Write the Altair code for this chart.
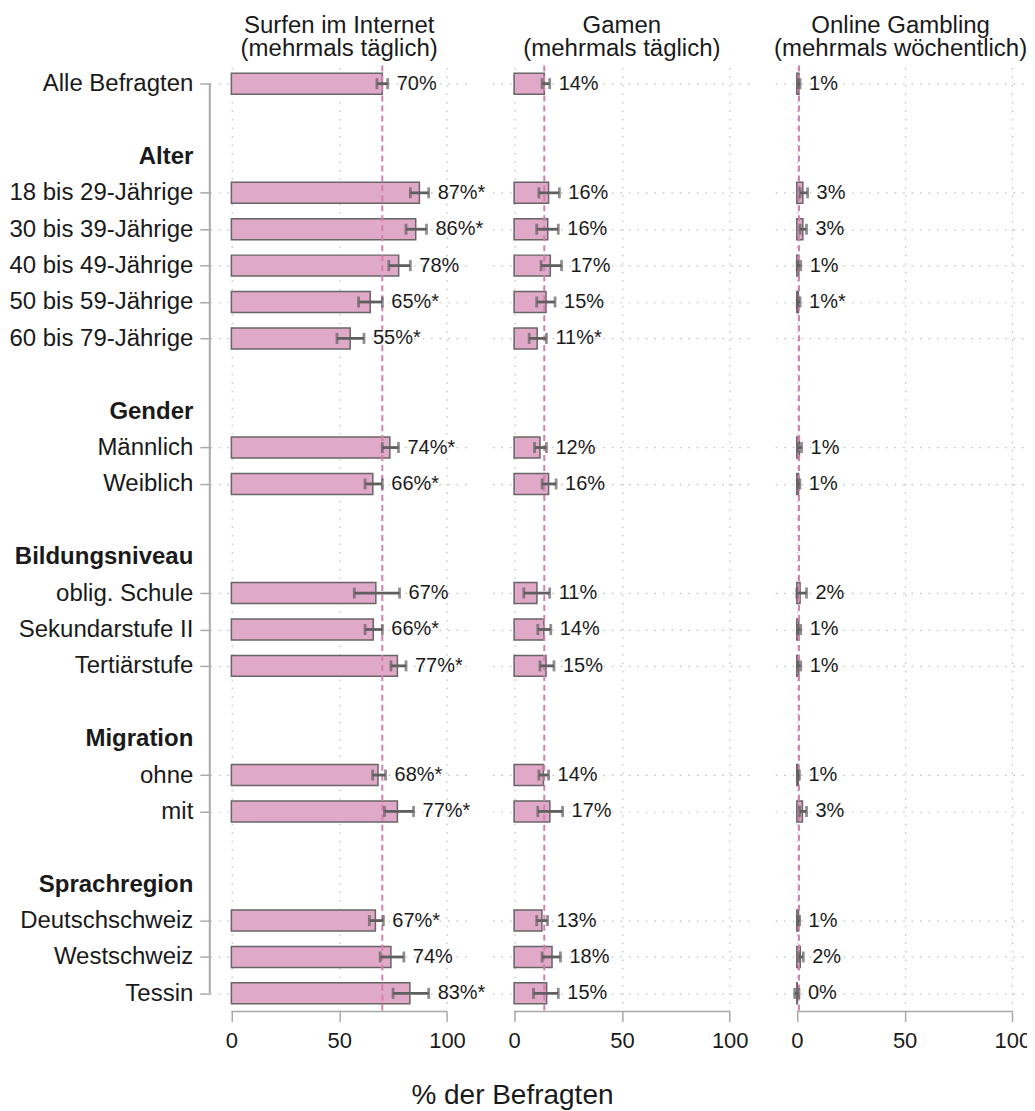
import json
import altair as alt
import pandas as pd

# ---------------- data ----------------
rows = ["Alle Befragten", " ", "Alter", "18 bis 29-Jährige", "30 bis 39-Jährige",
        "40 bis 49-Jährige", "50 bis 59-Jährige", "60 bis 79-Jährige", "  ", "Gender",
        "Männlich", "Weiblich", "   ", "Bildungsniveau", "oblig. Schule",
        "Sekundarstufe II", "Tertiärstufe", "    ", "Migration", "ohne", "mit",
        "     ", "Sprachregion", "Deutschschweiz", "Westschweiz", "Tessin"]
headers = ["Alter", "Gender", "Bildungsniveau", "Migration", "Sprachregion"]
groups = ["Alle Befragten", "18 bis 29-Jährige", "30 bis 39-Jährige", "40 bis 49-Jährige",
          "50 bis 59-Jährige", "60 bis 79-Jährige", "Männlich", "Weiblich",
          "oblig. Schule", "Sekundarstufe II", "Tertiärstufe", "ohne", "mit",
          "Deutschschweiz", "Westschweiz", "Tessin"]

surf_title = ["Surfen im Internet", "(mehrmals täglich)"]
surf_val = [70, 87.2, 85.5, 77.6, 64.4, 55.1, 73.5, 65.6, 67, 65.8, 77, 68, 77, 66.8, 74, 82.8]
surf_lo = [67.5, 83, 81, 73, 59, 49, 70, 62, 57, 62, 74, 65.5, 71, 64, 69, 75]
surf_hi = [72.5, 91.5, 90.5, 83, 70, 61.5, 77.5, 70, 78, 70, 81, 71.5, 84.5, 70.5, 80, 91.5]
surf_lab = ["70%", "87%*", "86%*", "78%", "65%*", "55%*", "74%*", "66%*", "67%", "66%*",
            "77%*", "68%*", "77%*", "67%*", "74%", "83%*"]
surf_mean = 70

game_title = ["Gamen", "(mehrmals täglich)"]
game_val = [14, 16, 15.6, 16.8, 14.8, 10.7, 12, 16, 10.6, 13.8, 14.8, 13.6, 16.6, 12.9, 17.6, 15.1]
game_lo = [13, 11.5, 10.5, 12.5, 10.5, 7, 9.5, 13, 4.5, 11, 12, 11.5, 11, 10.5, 13, 9]
game_hi = [16.5, 21, 20.5, 22, 19, 15, 15, 19.5, 16.5, 17, 18.5, 16, 22.5, 15.5, 21.5, 20.5]
game_lab = ["14%", "16%", "16%", "17%", "15%", "11%*", "12%", "16%", "11%", "14%", "15%",
            "14%", "17%", "13%", "18%", "15%"]
game_mean = 14

gamb_title = ["Online Gambling", "(mehrmals wöchentlich)"]
gamb_val = [1, 2.8, 2.8, 0.9, 0.7, None, 1.2, 0.8, 1.5, 0.9, 0.9, 0.7, 2.6, 0.8, 1.6, 0.2]
gamb_lo = [0.5, 1.5, 1.5, 0.2, 0.2, None, 0.5, 0.3, 0, 0.3, 0.3, 0.3, 1.3, 0.4, 0.9, -1]
gamb_hi = [1.5, 5, 4.5, 1.8, 1.5, None, 2.2, 1.4, 4.5, 1.8, 1.8, 1.2, 4.5, 1.3, 3, 1]
gamb_lab = ["1%", "3%", "3%", "1%", "1%*", None, "1%", "1%", "2%", "1%", "1%", "1%", "3%",
            "1%", "2%", "0%"]
gamb_mean = 1

xticks = [0, 50, 100]
xdomain = [-10, 110]
x_title = "% der Befragten"

# ---------------- style ----------------
FONT = "Liberation Sans"
TXT = "#1a1a1a"
AXGRAY = "#a9a9a9"
GRID = "#bdbdbd"
BAR = "#dfa9c7"
BARSTROKE = "#686567"
ERR = "#5f5f5f"
PINK = "#d47fb0"
W = 259
H = 947

groups_js = json.dumps(groups, ensure_ascii=False)
headers_js = json.dumps(headers, ensure_ascii=False)
hide_test = f"indexof({groups_js}, datum.value) < 0"
bold_test = f"indexof({headers_js}, datum.value) >= 0"

yscale = alt.Scale(type="point", domain=rows, padding=0.5)
xscale = alt.Scale(domain=xdomain, nice=False, zero=False)

xaxis = alt.Axis(values=xticks, title=None, domain=False, tickSize=10, tickColor=AXGRAY,
                 tickWidth=1.5, labelFont=FONT, labelFontSize=22, labelColor=TXT,
                 labelPadding=9, grid=True, gridColor=GRID, gridDash=[1.5, 7],
                 gridWidth=1.2)


def yaxis(first):
    common = dict(title=None, domain=False, grid=True, gridColor=GRID, gridDash=[1.5, 7],
                  gridWidth=1.2,
                  gridOpacity={"condition": {"test": hide_test, "value": 0}, "value": 1})
    if first:
        return alt.Axis(ticks=True, tickSize=10, tickColor=AXGRAY, tickWidth=1.5,
                        tickOpacity={"condition": {"test": hide_test, "value": 0}, "value": 1},
                        labelFont=FONT, labelFontSize=24, labelColor=TXT, labelPadding=7,
                        labelLimit=400,
                        labelFontWeight={"condition": {"test": bold_test, "value": "bold"},
                                         "value": "normal"},
                        **common)
    return alt.Axis(ticks=False, labels=False, **common)


def panel(title, vals, lo, hi, labs, mean, first, title_dx=0):
    df = pd.DataFrame({"group": groups, "val": vals, "lo": lo, "hi": hi, "lab": labs})
    df = df.dropna(subset=["val"])
    ya = yaxis(first)
    Y = alt.Y("group:N", scale=yscale, axis=ya)

    bars = alt.Chart(df).mark_bar(fill=BAR, stroke=BARSTROKE, strokeWidth=1.5, size=21).encode(
        x=alt.X("val:Q", scale=xscale, axis=xaxis), y=Y)
    meanline = alt.Chart(pd.DataFrame({"m": [mean]})).mark_rule(
        color=PINK, strokeDash=[6, 4], strokeWidth=2).encode(
        x=alt.X("m:Q", scale=xscale, axis=xaxis))
    err = alt.Chart(df).mark_rule(color=ERR, strokeWidth=2.8).encode(
        x=alt.X("lo:Q", scale=xscale, axis=xaxis), x2="hi:Q", y=Y)
    cap_lo = alt.Chart(df).mark_tick(color=ERR, thickness=2.8, size=11).encode(
        x=alt.X("lo:Q", scale=xscale, axis=xaxis), y=Y)
    cap_hi = alt.Chart(df).mark_tick(color=ERR, thickness=2.8, size=11).encode(
        x=alt.X("hi:Q", scale=xscale, axis=xaxis), y=Y)
    text = alt.Chart(df).mark_text(align="left", baseline="middle", dx=9, font=FONT,
                                   fontSize=20, color=TXT).encode(
        x=alt.X("hi:Q", scale=xscale, axis=xaxis), y=Y, text="lab:N")
    xline = alt.Chart(pd.DataFrame({"a": [xticks[0]], "b": [xticks[-1]]})).mark_rule(
        color=AXGRAY, strokeWidth=1.5).encode(
        x=alt.X("a:Q", scale=xscale, axis=xaxis), x2="b:Q", y=alt.value(H))
    layers = [bars, meanline, err, cap_lo, cap_hi, text, xline]
    if first:
        yline = alt.Chart(pd.DataFrame({"a": [groups[0]], "b": [groups[-1]]})).mark_rule(
            color=AXGRAY, strokeWidth=2).encode(
            x=alt.value(0), y=alt.Y("a:N", scale=yscale, axis=ya), y2="b:N")
        layers.append(yline)
    return alt.layer(*layers).properties(
        width=W, height=H,
        title=alt.TitleParams(title, font=FONT, fontSize=24, fontWeight="normal",
                              color=TXT, anchor="middle", lineHeight=23.5, offset=3,
                              dx=title_dx))


p1 = panel(surf_title, surf_val, surf_lo, surf_hi, surf_lab, surf_mean, True)
p2 = panel(game_title, game_val, game_lo, game_hi, game_lab, game_mean, False)
p3 = panel(gamb_title, gamb_val, gamb_lo, gamb_hi, gamb_lab, gamb_mean, False, title_dx=-4)

chart = alt.hconcat(p1, p2, p3, spacing=24, bounds="flush").properties(
    padding={"left": 0, "top": 5, "right": -7, "bottom": 0},
    title=alt.TitleParams(x_title, orient="bottom", anchor="middle", font=FONT, fontSize=28,
                          fontWeight="normal", color=TXT, offset=31, dx=-9),
).configure_view(stroke=None)

chart.save("out.html", embed_options={"renderer": "svg", "actions": False})
